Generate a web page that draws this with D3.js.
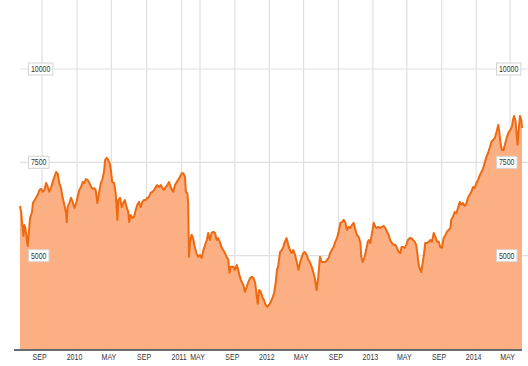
<!DOCTYPE html>
<html>
<head>
<meta charset="utf-8">
<script src="https://cdn.jsdelivr.net/npm/d3@7"></script>
<style>
  body { margin: 0; background: #fff; }
  svg { display: block; }
</style>
</head>
<body>
<script>
// index level (roughly weekly)
const dates = [
  "2009-06-16","2009-06-20","2009-06-23","2009-06-28","2009-07-01","2009-07-05","2009-07-10","2009-07-13","2009-07-17","2009-07-21",
  "2009-07-28","2009-07-31","2009-08-05","2009-08-11","2009-08-17","2009-08-23","2009-08-29","2009-09-03","2009-09-09","2009-09-15",
  "2009-09-21","2009-09-26","2009-10-02","2009-10-08","2009-10-14","2009-10-20","2009-10-26","2009-10-31","2009-11-06","2009-11-12",
  "2009-11-18","2009-11-24","2009-11-26","2009-11-29","2009-12-05","2009-12-11","2009-12-17","2009-12-23","2009-12-29","2010-01-03",
  "2010-01-09","2010-01-15","2010-01-21","2010-01-26","2010-02-01","2010-02-07","2010-02-13","2010-02-19","2010-02-25","2010-03-02",
  "2010-03-07","2010-03-13","2010-03-19","2010-03-25","2010-03-30","2010-04-05","2010-04-09","2010-04-15","2010-04-20","2010-04-25",
  "2010-04-29","2010-05-04","2010-05-10","2010-05-16","2010-05-22","2010-05-25","2010-05-31","2010-06-06","2010-06-11","2010-06-17",
  "2010-06-23","2010-06-29","2010-07-02","2010-07-07","2010-07-13","2010-07-19","2010-07-25","2010-07-30","2010-08-05","2010-08-11",
  "2010-08-17","2010-08-23","2010-08-29","2010-09-03","2010-09-09","2010-09-15","2010-09-21","2010-09-27","2010-10-03","2010-10-08",
  "2010-10-14","2010-10-20","2010-10-26","2010-10-31","2010-11-07","2010-11-12","2010-11-18","2010-11-24","2010-11-29","2010-12-03",
  "2010-12-09","2010-12-15","2010-12-20","2010-12-26","2011-01-02","2011-01-12","2011-01-23","2011-01-29","2011-02-07","2011-02-13",
  "2011-02-18","2011-02-24","2011-03-07","2011-03-17","2011-03-28","2011-04-08","2011-04-19","2011-05-01","2011-05-07","2011-05-13",
  "2011-05-19","2011-05-25","2011-05-30","2011-06-05","2011-06-11","2011-06-17","2011-06-23","2011-06-29","2011-07-04","2011-07-10",
  "2011-07-16","2011-07-22","2011-07-28","2011-08-03","2011-08-09","2011-08-13","2011-08-18","2011-08-27","2011-09-01","2011-09-08",
  "2011-09-13","2011-09-19","2011-09-25","2011-10-01","2011-10-07","2011-10-13","2011-10-19","2011-10-25","2011-10-31","2011-11-06",
  "2011-11-12","2011-11-18","2011-11-21","2011-11-26","2011-12-02","2011-12-07","2011-12-13","2011-12-19","2011-12-25","2011-12-31",
  "2012-01-06","2012-01-12","2012-01-18","2012-01-24","2012-01-28","2012-02-01","2012-02-08","2012-02-14","2012-02-19","2012-02-25",
  "2012-03-02","2012-03-08","2012-03-14","2012-03-20","2012-03-26","2012-04-01","2012-04-07","2012-04-13","2012-04-19","2012-04-25",
  "2012-04-30","2012-05-06","2012-05-12","2012-05-18","2012-05-24","2012-05-30","2012-06-04","2012-06-10","2012-06-16","2012-06-22",
  "2012-06-28","2012-07-04","2012-07-11","2012-07-17","2012-07-23","2012-07-29","2012-08-03","2012-08-09","2012-08-15","2012-08-21",
  "2012-08-27","2012-09-02","2012-09-08","2012-09-14","2012-09-20","2012-09-26","2012-10-01","2012-10-08","2012-10-13","2012-10-19",
  "2012-10-25","2012-10-31","2012-11-06","2012-11-12","2012-11-18","2012-11-21","2012-11-26","2012-12-02","2012-12-08","2012-12-14",
  "2012-12-18","2012-12-23","2012-12-29","2013-01-04","2013-01-10","2013-01-15","2013-01-21","2013-01-27","2013-02-02","2013-02-08",
  "2013-02-14","2013-02-20","2013-02-26","2013-03-03","2013-03-09","2013-03-15","2013-03-21","2013-03-27","2013-04-02","2013-04-08",
  "2013-04-12","2013-04-18","2013-04-24","2013-04-29","2013-05-05","2013-05-11","2013-05-17","2013-05-23","2013-05-29","2013-06-03",
  "2013-06-07","2013-06-12","2013-06-15","2013-06-21","2013-06-26","2013-07-01","2013-07-05","2013-07-11","2013-07-17","2013-07-23",
  "2013-07-29","2013-08-04","2013-08-10","2013-08-16","2013-08-22","2013-08-27","2013-09-02","2013-09-08","2013-09-14","2013-09-20",
  "2013-09-26","2013-10-02","2013-10-05","2013-10-11","2013-10-17","2013-10-23","2013-10-29","2013-11-04","2013-11-09","2013-11-15",
  "2013-11-21","2013-11-27","2013-12-03","2013-12-09","2013-12-15","2013-12-21","2013-12-27","2014-01-02","2014-01-08","2014-01-14",
  "2014-01-20","2014-01-26","2014-01-31","2014-02-06","2014-02-12","2014-02-18","2014-02-24","2014-03-02","2014-03-08","2014-03-14",
  "2014-03-20","2014-03-23","2014-03-28","2014-04-02","2014-04-08","2014-04-14","2014-04-20","2014-04-26","2014-05-02","2014-05-08",
  "2014-05-11","2014-05-15","2014-05-20","2014-05-23","2014-05-27","2014-06-01","2014-06-05","2014-06-10","2014-06-12"
];
const values = [
  6330,6170,5900,5530,5820,5740,5420,5260,5630,6010,
  6170,6410,6470,6550,6630,6760,6790,6710,6760,6950,
  6840,6710,6810,6970,7110,7240,7190,6950,6810,6550,
  6360,6120,5900,6300,6410,6550,6440,6280,6410,6570,
  6760,6840,6970,6950,7050,7030,6950,6840,6790,6810,
  6760,6410,6680,6950,7030,7240,7560,7620,7560,7480,
  7300,6970,6950,6680,5960,6490,6550,6300,6410,6490,
  6300,6170,5900,6090,6010,6040,6220,6360,6440,6300,
  6440,6490,6490,6550,6570,6680,6710,6760,6840,6890,
  6840,6890,6810,6760,6840,6890,6970,6840,6760,6710,
  6890,6970,7030,7110,7210,7210,7110,6710,6680,6410,
  4970,5340,5560,5470,5230,5070,4970,5020,4940,5150,
  5290,5420,5610,5420,5610,5640,5610,5420,5470,5370,
  5230,5150,5070,4970,4890,4540,4700,4700,4620,4750,
  4620,4430,4300,4220,4030,4160,4300,4400,4430,4400,
  4270,3890,3710,4080,4030,3890,3810,3680,3630,3680,
  3760,3870,4000,4300,4620,4700,5100,5150,5230,5370,
  5470,5290,5150,5070,5150,5020,4830,4620,4830,4970,
  5070,5100,5020,4890,4810,4700,4560,4400,4080,4430,
  4970,4830,4830,4830,4890,4940,5070,5150,5230,5370,
  5470,5640,5880,5900,5960,5880,5690,5770,5740,5820,
  5880,5690,5550,5500,5340,4970,4830,4940,5150,5370,
  5420,5340,5610,5880,5770,5740,5770,5740,5770,5800,
  5740,5640,5550,5420,5340,5290,5290,5210,5100,5070,
  5230,5230,5210,5290,5420,5470,5470,5420,5370,5290,
  5070,4750,4670,4560,4810,5070,5340,5340,5370,5420,
  5370,5610,5500,5370,5370,5230,5210,5470,5550,5640,
  5690,5740,5960,6040,6170,6140,6280,6440,6360,6410,
  6330,6390,6550,6630,6710,6840,6810,6950,7030,7160,
  7240,7350,7480,7640,7750,7890,8050,8100,8150,8310,
  8500,8370,8020,7830,7830,8020,8180,8310,8370,8470,
  8630,8740,8610,8370,7970,8420,8740,8610,8420
];

const tickDates = ["2009-09-01","2010-01-01","2010-05-01","2010-09-01","2011-01-01","2011-05-01","2011-09-01",
  "2012-01-01","2012-05-01","2012-09-01","2013-01-01","2013-05-01","2013-09-01","2014-01-01","2014-05-01"];
const tickLabels = ["SEP","2010","MAY","SEP","2011","MAY","SEP","2012","MAY","SEP","2013","MAY","SEP","2014","MAY"];
const yTicks = [5000, 7500, 10000];
// few sessions between these two dates, the axis squeezes them
const squeezed = ["2011-01-01", "2011-05-01"];

const width = 528, height = 366;
const baseValue = 2500;
const font = "'Liberation Sans', Arial, sans-serif";

const parse = d3.timeParse("%Y-%m-%d");
const data = dates.map((d, i) => ({ date: parse(d), value: values[i] }));

const svg = d3.select("body").append("svg")
  .attr("width", width)
  .attr("height", height);

const x = d3.scaleTime()
  .domain([data[0].date, parse(squeezed[0]), parse(squeezed[1]), data[data.length - 1].date])
  .range([20, 181.6, 200, 522]);

const y = d3.scaleLinear()
  .domain([baseValue, 10000])
  .range([349, 69]);

// grid
svg.append("g")
  .selectAll("line")
  .data(tickDates.map(parse))
  .join("line")
  .attr("x1", d => x(d)).attr("x2", d => x(d))
  .attr("y1", 0).attr("y2", y(baseValue))
  .attr("stroke", "#e0e0e0")
  .attr("stroke-width", 1.2);

svg.append("g")
  .selectAll("line")
  .data(yTicks)
  .join("line")
  .attr("x1", 20).attr("x2", width)
  .attr("y1", d => y(d)).attr("y2", d => y(d))
  .attr("stroke", "#e0e0e0")
  .attr("stroke-width", 1.2);

// area + line
const area = d3.area()
  .x(d => x(d.date))
  .y0(y(baseValue))
  .y1(d => y(d.value));

const line = d3.line()
  .x(d => x(d.date))
  .y(d => y(d.value));

svg.append("path")
  .datum(data)
  .attr("d", area)
  .attr("fill", "#fcaa7b")
  .attr("fill-opacity", 0.94);

svg.append("path")
  .datum(data)
  .attr("d", line)
  .attr("fill", "none")
  .attr("stroke", "#ee6a12")
  .attr("stroke-width", 2)
  .attr("stroke-linejoin", "round");

// x axis
svg.append("line")
  .attr("x1", 14).attr("x2", 522)
  .attr("y1", y(baseValue) + 1).attr("y2", y(baseValue) + 1)
  .attr("stroke", "#3a3a3a")
  .attr("stroke-width", 1.5);

const xAxis = d3.axisBottom(x)
  .tickValues(tickDates.map(parse))
  .tickFormat((d, i) => tickLabels[i])
  .tickSize(0)
  .tickPadding(3);

svg.append("g")
  .attr("transform", `translate(0,${y(baseValue) + 1})`)
  .call(xAxis)
  .call(g => g.select(".domain").remove())
  .selectAll("text")
  .attr("transform", "translate(-3,0) scale(0.74,1)")
  .attr("fill", "#333")
  .attr("font-family", font)
  .attr("font-size", 9.5);

// y labels on both sides, boxed
const squeezeY = 0.82;
function yLabels(x0) {
  const g = svg.append("g")
    .selectAll("g")
    .data(yTicks)
    .join("g")
    .attr("transform", d => `translate(${x0},${y(d)})`);

  g.append("text")
    .attr("transform", `translate(2.5,0) scale(${squeezeY},1)`)
    .attr("dy", "0.35em")
    .attr("fill", "#333")
    .attr("font-family", font)
    .attr("font-size", 8.5)
    .text(d => d);

  g.insert("rect", "text")
    .attr("x", 0)
    .attr("y", -6)
    .attr("height", 12)
    .attr("width", function () {
      return this.parentNode.querySelector("text").getComputedTextLength() * squeezeY + 5;
    })
    .attr("fill", "#fff")
    .attr("stroke", "#d4d4d4")
    .attr("stroke-width", 1);
}
yLabels(28.5);
yLabels(496.5);
</script>
</body>
</html>
